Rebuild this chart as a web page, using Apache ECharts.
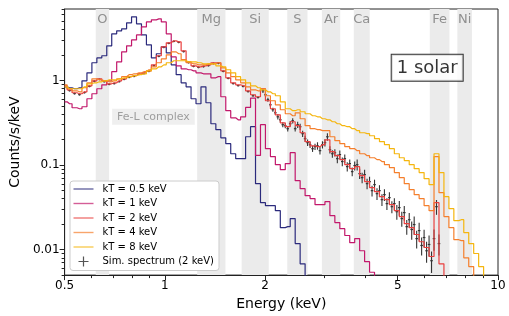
<!DOCTYPE html>
<html><head><meta charset="utf-8">
<script src="https://cdn.jsdelivr.net/npm/echarts@6/dist/echarts.min.js"></script>
<style>html,body{margin:0;padding:0;background:#fff}#c{width:509px;height:316px}</style>
</head><body><div id="c"></div>
<script>
// ---- data (keV bin centres, counts/s/keV) ----
const energy=[0.5000,0.5174,0.5355,0.5541,0.5735,0.5935,0.6142,0.6356,0.6577,0.6807,0.7044,0.7290,0.7544,0.7807,0.8079,0.8361,0.8652,0.8954,0.9266,0.9589,0.9924,1.0270,1.0628,1.0998,1.1382,1.1779,1.2189,1.2615,1.3054,1.3510,1.3981,1.4468,1.4973,1.5495,1.6035,1.6594,1.7173,1.7772,1.8391,1.9033,1.9696,2.0383,2.1094,2.1829,2.2591,2.3378,2.4194,2.5037,2.5910,2.6814,2.7749,2.8716,2.9717,3.0754,3.1826,3.2936,3.4084,3.5273,3.6502,3.7775,3.9092,4.0455,4.1866,4.3326,4.4836,4.6400,4.8018,4.9692,5.1425,5.3218,5.5073,5.6994,5.8981,6.1037,6.3166,6.5368,6.7648,7.0006,7.2447,7.4974,7.7588,8.0293,8.3093,8.5990,8.8989,9.2092,9.5303,9.8626];
const kT05=[0.842,0.820,0.798,0.820,0.991,1.23,1.62,1.85,1.96,2.57,3.56,3.86,4.08,4.80,5.65,4.67,3.46,2.64,1.85,2.07,2.50,2.12,1.53,1.17,0.939,0.842,0.608,0.531,0.842,0.545,0.308,0.262,0.210,0.179,0.136,0.119,0.119,0.216,0.284,0.0603,0.0359,0.0331,0.0331,0.0289,0.0182,0.0187,0.0233,0.0118,0.0068,0.0046];
const kT1=[0.560,0.531,0.476,0.463,0.489,0.608,0.697,0.798,0.889,0.991,1.27,1.66,2.18,2.57,3.02,3.46,4.30,4.93,5.21,5.35,4.93,3.56,1.90,1.49,1.375,1.34,1.30,1.23,1.20,1.20,1.075,1.11,0.642,0.439,0.362,0.343,0.372,0.480,0.620,0.130,0.300,0.156,0.126,0.101,0.0883,0.104,0.140,0.0654,0.0526,0.0435,0.0401,0.0340,0.0340,0.0369,0.0252,0.0209,0.0177,0.0147,0.0121,0.0135,0.0097,0.0072,0.0054,0.0040];
const kT2=[0.865,0.776,0.716,0.697,0.735,0.865,0.991,1.047,0.991,0.914,0.939,0.991,1.047,1.11,1.14,1.20,1.23,1.30,1.53,1.96,2.50,2.79,2.94,2.86,2.24,1.66,1.49,1.45,1.49,1.53,1.62,1.62,1.30,1.075,0.939,0.889,0.865,0.755,0.678,0.642,0.798,0.576,0.463,0.393,0.316,0.284,0.325,0.292,0.241,0.189,0.169,0.165,0.174,0.199,0.144,0.129,0.116,0.101,0.0907,0.0958,0.0750,0.0637,0.0541,0.0485,0.0423,0.0390,0.0340,0.0289,0.0246,0.0203,0.0182,0.0151,0.0124,0.0106,0.0083,0.0359,0.0068,0.0035];
const kT4=[0.889,0.798,0.755,0.735,0.820,0.939,1.047,1.019,0.991,0.965,0.991,1.047,1.11,1.17,1.20,1.23,1.27,1.34,1.45,1.62,1.80,2.01,2.18,2.07,1.76,1.62,1.575,1.53,1.53,1.575,1.575,1.62,1.41,1.23,1.11,1.019,0.939,0.842,0.776,0.755,0.798,0.660,0.576,0.516,0.451,0.404,0.383,0.415,0.353,0.292,0.269,0.262,0.255,0.255,0.216,0.194,0.179,0.165,0.156,0.148,0.136,0.129,0.122,0.116,0.110,0.101,0.0933,0.0814,0.0710,0.0603,0.0512,0.0447,0.0401,0.0331,0.0289,0.126,0.0472,0.0246,0.0182,0.0131,0.0128,0.0080,0.0063,0.0046];
const kT8=[0.842,0.798,0.798,0.798,0.842,0.914,0.939,0.965,0.991,1.019,1.019,1.047,1.075,1.11,1.14,1.17,1.20,1.30,1.375,1.45,1.53,1.62,1.71,1.71,1.71,1.66,1.66,1.62,1.575,1.575,1.575,1.49,1.45,1.34,1.23,1.11,1.019,0.939,0.865,0.820,0.776,0.735,0.697,0.660,0.560,0.463,0.439,0.451,0.427,0.404,0.383,0.372,0.353,0.343,0.325,0.308,0.292,0.284,0.269,0.255,0.241,0.235,0.222,0.205,0.189,0.174,0.156,0.136,0.122,0.113,0.101,0.0907,0.0814,0.0691,0.0587,0.136,0.0814,0.0423,0.0305,0.0220,0.0226,0.0159,0.0118,0.0090,0.0063,0.0047];
// simulated spectrum (2 keV): energy, counts, 1-sigma error
const simE=[0.5174,0.5355,0.5541,0.5735,0.5935,0.6142,0.6356,0.6577,0.6807,0.7044,0.7290,0.7544,0.7807,0.8079,0.8361,0.8652,0.8954,0.9266,0.9589,0.9924,1.0270,1.0628,1.0998,1.1382,1.1779,1.2189,1.2615,1.3054,1.3510,1.3981,1.4468,1.4973,1.5495,1.6035,1.6594,1.7173,1.7772,1.8391,1.9033,
1.9696,2.0036,2.0383,2.0735,2.1094,2.1459,2.1829,2.2206,2.2591,2.2982,2.3378,2.3782,2.4194,2.4612,2.5037,2.5470,2.5910,2.6358,2.6814,2.7277,2.7749,2.8229,2.8716,2.9212,2.9717,3.0231,3.0754,3.1286,3.1826,3.2376,3.2936,3.3505,3.4084,3.4673,3.5273,3.5883,3.6502,3.7133,3.7775,3.8428,3.9092,3.9768,4.0455,4.1154,4.1866,4.2590,4.3326,4.4075,4.4836,4.5611,4.6400,4.7202,4.8018,4.8848,4.9692,5.0551,5.1425,5.2314,5.3218,5.4138,5.5073,5.6025,5.6994,5.7979,5.8981,6.0000,6.1037,6.2092,6.3166,6.4258,6.5368,6.6498];
const simC=[0.76,0.70,0.68,0.72,0.85,0.98,1.03,0.97,0.90,0.92,0.97,1.03,1.09,1.12,1.18,1.21,1.28,1.50,1.93,2.47,2.75,2.90,2.83,2.20,1.63,1.47,1.43,1.46,1.50,1.59,1.60,1.28,1.06,0.92,0.87,0.85,0.74,0.66,0.63,
0.755,0.678,0.592,0.516,0.451,0.415,0.372,0.343,0.300,0.292,0.269,0.308,0.334,0.269,0.300,0.284,0.235,0.205,0.184,0.174,0.156,0.165,0.169,0.148,0.174,0.184,0.216,0.152,0.136,0.140,0.119,0.133,0.110,0.119,0.0958,0.104,0.0836,0.0985,0.101,0.0792,0.0710,0.0771,0.0603,0.0637,0.0498,0.0587,0.0459,0.0498,0.0390,0.0447,0.0350,0.0412,0.0322,0.0350,0.0281,0.0314,0.0233,0.0274,0.0187,0.0226,0.0173,0.0198,0.0135,0.0168,0.0112,0.0139,0.0097,0.0115,0.0074,0.0135,0.0322,0.0118];
const simErr=[0.019,0.018,0.017,0.018,0.021,0.024,0.025,0.024,0.022,0.023,0.024,0.025,0.027,0.028,0.029,0.030,0.032,0.037,0.048,0.061,0.068,0.072,0.070,0.055,0.041,0.037,0.036,0.036,0.037,0.040,0.040,0.032,0.027,0.023,0.022,0.021,0.019,0.017,0.016,
0.042,0.038,0.033,0.029,0.025,0.023,0.026,0.024,0.021,0.020,0.019,0.022,0.023,0.019,0.026,0.024,0.020,0.017,0.016,0.015,0.013,0.014,0.017,0.015,0.017,0.018,0.022,0.015,0.014,0.014,0.014,0.016,0.013,0.014,0.012,0.012,0.010,0.012,0.015,0.011,0.010,0.011,0.0087,0.0092,0.0072,0.0085,0.0073,0.0080,0.0062,0.0072,0.0056,0.0066,0.0052,0.0056,0.0056,0.0063,0.0047,0.0055,0.0037,0.0045,0.0042,0.0048,0.0032,0.0040,0.0027,0.0033,0.0027,0.0032,0.0021,0.0038,0.0064,0.0033];
// element bands (keV)
const bandNames=['O','Mg','Si','S','Ar','Ca','Fe','Ni'];
const bandLo=[0.62,1.25,1.70,2.33,2.96,3.69,6.24,7.55];
const bandHi=[0.68,1.52,2.05,2.68,3.36,4.12,7.15,8.35];
// ticks
const xMajor=[0.5,1,2,5,10];
const xMinor=[0.6,0.7,0.8,0.9,3,4,6,7,8,9];
const yMajor=[0.01,0.1,1];
const yMinor=[0.005,0.006,0.007,0.008,0.009,0.02,0.03,0.04,0.05,0.06,0.07,0.08,0.09,0.2,0.3,0.4,0.5,0.6,0.7,0.8,0.9,2,3,4,5,6,7];
// annotations
const annText=['Fe-L complex','1 solar'];
const annE=[0.924,6.13];
const annC=[0.373,1.41];

const names=['kT = 0.5 keV','kT = 1 keV','kT = 2 keV','kT = 4 keV','kT = 8 keV'];
const simName='Sim. spectrum (2 keV)';
const colors=['#2b2a7c','#c2186b','#e9403f','#f57f2c','#f5b60f'];
const curves=[kT05,kT1,kT2,kT4,kT8];
const FONT='DejaVu Sans';
const fmt=v=>String(Math.round(v*1000)/1000);

const chart=echarts.init(document.getElementById('c'),null,{renderer:'canvas'});
const series=[];
series.push({type:'line',data:[[1,1e-7]],showSymbol:false,lineStyle:{opacity:0},z:1,silent:true,
  markArea:{silent:true,itemStyle:{color:'#ebebeb'},
    label:{show:true,position:'insideTop',distance:4,color:'#8f8f8f',fontSize:13,fontFamily:FONT},
    data:bandNames.map((n,i)=>[{name:n,xAxis:bandLo[i]},{xAxis:bandHi[i]}])}});
series.push({name:simName,type:'custom',clip:true,z:2,
  data:simE.map((e,i)=>[e,simC[i],simErr[i]]),encode:{x:0,y:1},
  renderItem:(p,api)=>{
    const x=api.value(0),y=api.value(1),er=api.value(2);
    const c=api.coord([x,y]);const t=api.coord([x,y+er]);const b=api.coord([x,Math.max(y-er,1e-5)]);
    return {type:'group',children:[
      {type:'line',shape:{x1:c[0],y1:t[1],x2:c[0],y2:b[1]},style:{stroke:'#333',lineWidth:1.1}},
      {type:'line',shape:{x1:c[0]-1.3,y1:c[1],x2:c[0]+1.3,y2:c[1]},style:{stroke:'#333',lineWidth:1.2}}]};
  }});
curves.forEach((vals,i)=>{
  series.push({name:names[i],type:'line',step:'middle',data:vals.map((v,j)=>[energy[j],v]),
    showSymbol:false,symbol:'none',lineStyle:{color:colors[i],width:1.2},itemStyle:{color:colors[i]},z:3+i});
});
series.push({type:'scatter',z:20,silent:true,symbolSize:0,data:[[annE[0],annC[0]]],
  label:{show:true,position:'inside',formatter:annText[0],fontSize:11,fontFamily:FONT,color:'#8a8a8a',
    backgroundColor:'#ebebeb',padding:[2,5,1,5],lineHeight:13}});
series.push({type:'scatter',z:20,silent:true,symbolSize:0,data:[[annE[1],annC[1]]],
  label:{show:true,position:'inside',formatter:annText[1],fontSize:18,fontFamily:FONT,color:'#000',
    backgroundColor:'#fff',borderColor:'#000',borderWidth:1,padding:[3,5,2,5],lineHeight:21}});

const minorX={type:'log',logBase:10,min:0.5,max:10,position:'bottom',axisLine:{show:false},
  axisTick:{show:true,length:3,customValues:xMinor,lineStyle:{color:'#222'}},axisLabel:{show:false},splitLine:{show:false}};
const minorY={type:'log',logBase:10,min:0.005,max:7,position:'left',axisLine:{show:false},
  axisTick:{show:true,length:3,customValues:yMinor,lineStyle:{color:'#222'}},axisLabel:{show:false},splitLine:{show:false}};

chart.setOption({
  animation:false,
  textStyle:{fontFamily:FONT},
  grid:{left:61,right:11,top:9,bottom:40,show:true,borderColor:'#222',borderWidth:1,backgroundColor:'transparent'},
  xAxis:[{type:'log',logBase:10,min:0.5,max:10,position:'bottom',name:'Energy (keV)',nameLocation:'middle',nameGap:21,
    nameTextStyle:{fontSize:14,color:'#000',fontFamily:FONT},
    axisLine:{show:true,lineStyle:{color:'#222',width:1}},
    axisTick:{show:true,length:5,customValues:xMajor,lineStyle:{color:'#222'}},
    axisLabel:{show:true,customValues:xMajor,formatter:fmt,fontSize:12,color:'#000',margin:5,fontFamily:FONT},
    splitLine:{show:false}},minorX],
  yAxis:[{type:'log',logBase:10,min:0.005,max:7,position:'left',name:'Counts/s/keV',nameLocation:'middle',nameGap:42,
    nameTextStyle:{fontSize:14,color:'#000',fontFamily:FONT},
    axisLine:{show:true,lineStyle:{color:'#222',width:1}},
    axisTick:{show:true,length:5,customValues:yMajor,lineStyle:{color:'#222'}},
    axisLabel:{show:true,customValues:yMajor,formatter:fmt,fontSize:12,color:'#000',margin:5,fontFamily:FONT},
    splitLine:{show:false}},minorY],
  legend:{orient:'vertical',left:70,top:181,padding:[2,5,3,3.5],backgroundColor:'#fff',borderColor:'#cccccc',borderWidth:1,borderRadius:3,
    itemWidth:20,itemHeight:10,itemGap:2.5,selectedMode:false,
    textStyle:{fontSize:10,fontFamily:FONT,color:'#000',lineHeight:12,padding:[0,0,0,4]},
    data:names.map((n,i)=>({name:n,icon:'path://M0,0h20v1.4h-20z',itemStyle:{color:colors[i],opacity:0.7}}))
      .concat([{name:simName,icon:'path://M4.4,0h1.2v4.4h4.4v1.2h-4.4v4.4h-1.2v-4.4h-4.4v-1.2h4.4z',itemStyle:{color:'#555'}}])},
  series:series
});
</script></body></html>
